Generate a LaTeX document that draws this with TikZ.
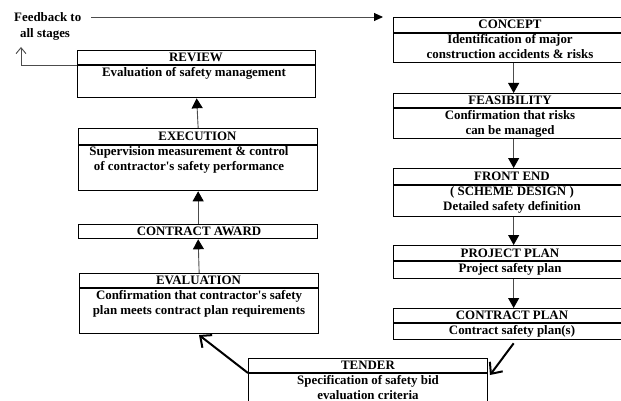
\documentclass[tikz,border=0pt]{standalone}
\usepackage{fontspec}
\setmainfont{Liberation Serif}
\usetikzlibrary{arrows.meta}
\begin{document}
\begin{tikzpicture}[x=1pt,y=-1pt,
  font=\fontsize{12.9}{15}\selectfont\bfseries,
  box/.style={draw, line width=1.3pt, anchor=north west, inner sep=0pt},
  divider/.style={line width=1.3pt},
  lbl/.style={align=center, inner sep=0pt},
  flowarr/.style={draw=black!70, line width=0.9pt, -{Triangle[length=10pt,width=11pt,color=black,fill=black]}},
  toparr/.style={draw=black!70, line width=0.9pt, -{Triangle[length=9pt,width=8pt,color=black,fill=black]}},
  backarr/.style={draw=black!70, line width=0.9pt, -{Straight Barb[length=6pt,width=10pt]}},
  bigarr/.style={line width=2pt, -{Straight Barb[length=9pt,width=16pt]}}]
\useasboundingbox (0,0) rectangle (621,401);

% left column
\node[box, minimum width=238pt, minimum height=47pt] (review) at (77,50) {};
\draw[divider] ([yshift=-15pt]review.north west) -- ([yshift=-15pt]review.north east);
\node[lbl] (reviewH) at (196,57.5) {REVIEW};
\node[lbl] (reviewB) at (194,73) {Evaluation of safety management};

\node[box, minimum width=239pt, minimum height=62pt] (execution) at (78,128) {};
\draw[divider] ([yshift=-17pt]execution.north west) -- ([yshift=-17pt]execution.north east);
\node[lbl] (executionH) at (197.5,136.5) {EXECUTION};
\node[lbl] (executionB) at (189,160) {Supervision measurement \& control\\of contractor\textquotesingle s safety performance};

\node[box, minimum width=239pt, minimum height=14pt] (award) at (78,224) {};
\node[lbl] (awardH) at (199,231) {CONTRACT AWARD};

\node[box, minimum width=239pt, minimum height=60pt] (evaluation) at (79,273) {};
\draw[divider] ([yshift=-15pt]evaluation.north west) -- ([yshift=-15pt]evaluation.north east);
\node[lbl] (evaluationH) at (198.5,280.5) {EVALUATION};
\node[lbl] (evaluationB) at (199,303.5) {Confirmation that contractor\textquotesingle s safety\\plan meets contract plan requirements};

% tender
\node[box, minimum width=239pt, minimum height=55pt] (tender) at (248,358) {};
\draw[divider] ([yshift=-15pt]tender.north west) -- ([yshift=-15pt]tender.north east);
\node[lbl] (tenderH) at (368,365.5) {TENDER};
\node[lbl] (tenderB) at (368,387.5) {Specification of safety bid\\evaluation criteria};

% right column
\node[box, minimum width=240pt, minimum height=45pt] (concept) at (393,17) {};
\draw[divider] ([yshift=-16pt]concept.north west) -- ([yshift=-16pt]concept.north east);
\node[lbl] (conceptH) at (510,24.5) {CONCEPT};
\node[lbl] (conceptB) at (510,46.5) {Identification of major\\construction accidents \& risks};

\node[box, minimum width=240pt, minimum height=45pt] (feasibility) at (393,93) {};
\draw[divider] ([yshift=-15pt]feasibility.north west) -- ([yshift=-15pt]feasibility.north east);
\node[lbl] (feasibilityH) at (510,100.5) {FEASIBILITY};
\node[lbl] (feasibilityB) at (510,123.5) {Confirmation that risks\\can be managed};

\node[box, minimum width=240pt, minimum height=48pt] (frontend) at (393,168) {};
\draw[divider] ([yshift=-17pt]frontend.north west) -- ([yshift=-17pt]frontend.north east);
\node[lbl] (frontendH) at (512,176.5) {FRONT END};
\node[lbl] (frontendB) at (512,199.5) {( SCHEME DESIGN )\\Detailed safety definition};

\node[box, minimum width=240pt, minimum height=33pt] (project) at (393,245) {};
\draw[divider] ([yshift=-16pt]project.north west) -- ([yshift=-16pt]project.north east);
\node[lbl] (projectH) at (510,253) {PROJECT PLAN};
\node[lbl] (projectB) at (510,269) {Project safety plan};

\node[box, minimum width=240pt, minimum height=31pt] (contract) at (393,308) {};
\draw[divider] ([yshift=-15pt]contract.north west) -- ([yshift=-15pt]contract.north east);
\node[lbl] (contractH) at (512,315.5) {CONTRACT PLAN};
\node[lbl] (contractB) at (512,331) {Contract safety plan(s)};

% feedback
\node[lbl, anchor=west] (fb1) at (14,17) {Feedback to};
\node[lbl, anchor=west] (fb2) at (20,34) {all stages};
\coordinate (fbend) at (383,17);
\coordinate (fbup) at (21,47);
\draw[toparr] ([xshift=10pt]fb1.east) -- (fbend);
\draw[backarr] ([yshift=-15pt]review.north west) -| (fbup);

% flow arrows
\draw[flowarr] (concept.south) -- (feasibility.north);
\draw[flowarr] (feasibility.south) -- (frontend.north);
\draw[flowarr] (frontend.south) -- (project.north);
\draw[flowarr] (project.south) -- (contract.north);
\draw[flowarr] (evaluation.north) -- (award.south);
\draw[flowarr] (award.north) -- (execution.south);
\draw[flowarr] (execution.north) -- (review.south);

\coordinate (tenderin) at (490,375);
\coordinate (evalin) at (199,335);
\draw[bigarr] ([yshift=-3pt]contract.south) -- (tenderin);
\draw[bigarr] ([yshift=-15pt]tender.north west) -- (evalin);
\end{tikzpicture}
\end{document}
